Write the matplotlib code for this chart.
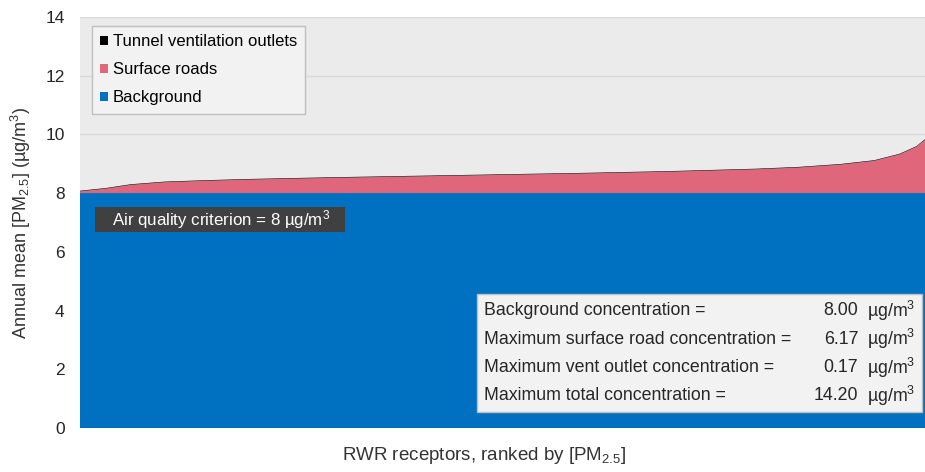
import numpy as np
import matplotlib.pyplot as plt

plt.rcParams['font.family'] = ['Liberation Sans', 'DejaVu Sans']
plt.rcParams['mathtext.fontset'] = 'custom'
plt.rcParams['mathtext.rm'] = 'Liberation Sans'
plt.rcParams['mathtext.it'] = 'Liberation Sans:italic'

# ---------------- data ----------------
rank = [0.0, 0.03, 0.06, 0.10, 0.15, 0.20, 0.30, 0.40, 0.50, 0.60,
        0.70, 0.80, 0.85, 0.90, 0.94, 0.97, 0.99, 1.0]
background = [8.0] * len(rank)
surface_roads = [0.06, 0.15, 0.28, 0.37, 0.42, 0.46, 0.52, 0.57, 0.62, 0.67,
                 0.73, 0.81, 0.87, 0.97, 1.10, 1.32, 1.58, 1.82]
vent_outlets = [0.02] * len(rank)

stat_labels = ['Background concentration =',
               'Maximum surface road concentration =',
               'Maximum vent outlet concentration =',
               'Maximum total concentration =']
stat_values = ['8.00', '6.17', '0.17', '14.20']

c_bg = '#0070C0'
c_road = '#E0677B'
c_vent = '#000000'
txt = '#262626'

fig = plt.figure(figsize=(9.25, 4.72), dpi=100)
ax = fig.add_axes([0.0865, 0.0932, 0.9135, 0.871])
ax.set_facecolor('#EBEBEB')

ax.stackplot(rank, background, surface_roads, vent_outlets,
             colors=[c_bg, c_road, c_vent],
             labels=['Background', 'Surface roads', 'Tunnel ventilation outlets'])

ax.set_xlim(0, 1)
ax.set_ylim(0, 14)
ax.set_yticks(range(0, 15, 2))
ax.set_xticks([])
ax.tick_params(axis='y', length=0, labelsize=12.5, pad=11, colors=txt)
for s in ax.spines.values():
    s.set_visible(False)
ax.yaxis.grid(True, color='#D9D9D9', lw=1)
ax.set_axisbelow(True)

ax.set_ylabel('Annual mean [PM$_{2.5}$] (µg/m$^3$)', fontsize=13, color='#333333', labelpad=9)
ax.set_xlabel('RWR receptors, ranked by [PM$_{2.5}$]', fontsize=13.5, color='#333333',
              labelpad=12, x=0.478)

h, l = ax.get_legend_handles_labels()
leg = ax.legend(h[::-1], l[::-1], loc='upper left', bbox_to_anchor=(0.014, 0.978),
                fontsize=12, handlelength=0.45, handleheight=0.45, handletextpad=0.3,
                labelspacing=0.78, fancybox=False, framealpha=1, borderpad=0.5,
                borderaxespad=0)
leg.get_frame().set_facecolor('#F2F2F2')
leg.get_frame().set_edgecolor('#BFBFBF')

# criterion label
ax.add_patch(plt.Rectangle((0.0178, 6.67), 0.296, 0.85, transform=ax.get_yaxis_transform(),
                           fc='#404040', ec='none', zorder=4))
ax.text(0.038, 7.09, 'Air quality criterion = 8 µg/m$^3$', transform=ax.get_yaxis_transform(),
        color='white', fontsize=12.2, va='center', ha='left', zorder=5)

# stats box
box = plt.Rectangle((0.4698, 0.04), 0.5265, 0.285, transform=ax.transAxes,
                    fc='#F2F2F2', ec='#BFBFBF', lw=1, zorder=5)
ax.add_patch(box)
y0 = 0.285
for i, (lab, val) in enumerate(zip(stat_labels, stat_values)):
    yy = y0 - i * 0.069
    ax.text(0.478, yy, lab, transform=ax.transAxes, fontsize=12.8,
            color=txt, va='center', zorder=6)
    ax.text(0.921, yy, val, transform=ax.transAxes, fontsize=12.8,
            color=txt, va='center', ha='right', zorder=6)
    ax.text(0.931, yy, 'µg/m$^3$', transform=ax.transAxes, fontsize=12.8,
            color=txt, va='center', zorder=6)

fig.savefig('out.png', dpi=100)
